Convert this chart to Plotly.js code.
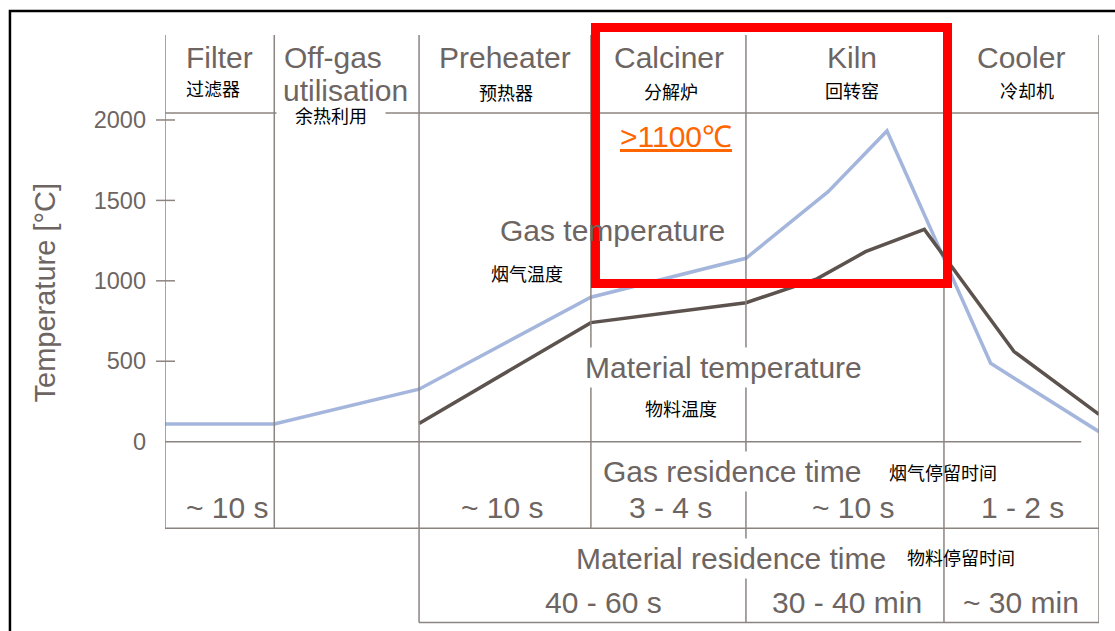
<!DOCTYPE html>
<html>
<head>
<meta charset="utf-8">
<script src="https://cdn.plot.ly/plotly-3.0.1.min.js"></script>
<style>html,body{margin:0;padding:0;background:#fff;}#chart{width:1115px;height:631px;}</style>
</head>
<body>
<div id="chart"></div>
<script>
// ---- data (x = position along the process, % of total width; y = temperature in °C) ----
const stageNames = ['Filter', 'Off-gas', 'Preheater', 'Calciner', 'Kiln', 'Cooler'];
const stageNamesZh = ['过滤器', '余热利用', '预热器', '分解炉', '回转窑', '冷却机'];
const stageEdges = [0, 11.7, 27.2, 45.6, 62.2, 83.4, 100];
const gasX = [0, 11.7, 27.2, 45.6, 62.2, 71.0, 77.3, 88.4, 100];
const gasTemp = [110, 110, 326, 898, 1140, 1554, 1932, 487, 62];
const matX = [27.2, 45.6, 62.2, 69.8, 75.0, 81.3, 90.9, 100];
const matTemp = [113, 740, 864, 1012, 1181, 1320, 560, 170];
const gasResidence = ['~ 10 s', '~ 10 s', '3 - 4 s', '~ 10 s', '1 - 2 s'];
const materialResidence = ['40 - 60 s', '30 - 40 min', '~ 30 min'];
const yTicks = [0, 500, 1000, 1500, 2000];

// ---- styles ----
const EN = 'Liberation Sans, Arial, sans-serif';
const ZH = 'Noto Sans CJK SC, sans-serif';
const GREY = '#6d6562';
const GRID = '#8c8480';
const ENSIZE = 30;
const ZHSIZE = 18;

const traces = [
  {x: gasX, y: gasTemp, mode: 'lines', line: {color: '#a5b6dd', width: 3.5}, hoverinfo: 'skip', showlegend: false},
  {x: matX, y: matTemp, mode: 'lines', line: {color: '#5c524e', width: 3.5}, hoverinfo: 'skip', showlegend: false}
];

// table structure
const headerY = 2043;
const gasRowBottom = -538;
const yTop = 2528.4, yBottom = -1140;
const matRowBottom = -1125;
const shapes = [];
const vBottoms = [gasRowBottom, gasRowBottom, matRowBottom, gasRowBottom, matRowBottom, matRowBottom, matRowBottom];
stageEdges.forEach((e, i) => {
  shapes.push({type: 'line', xref: 'x', yref: 'y', x0: e, x1: e, y0: yTop, y1: vBottoms[i], line: {color: GRID, width: 1.5}});
});
shapes.push({type: 'line', xref: 'x', yref: 'y', x0: 0, x1: 100, y0: headerY, y1: headerY, line: {color: GRID, width: 1.5}});
shapes.push({type: 'line', xref: 'x', yref: 'y', x0: 0, x1: 98.1, y0: 0, y1: 0, line: {color: GRID, width: 1.5}});
shapes.push({type: 'line', xref: 'x', yref: 'y', x0: 0, x1: 100, y0: gasRowBottom, y1: gasRowBottom, line: {color: GRID, width: 1.5}});
shapes.push({type: 'line', xref: 'x', yref: 'y', x0: stageEdges[2], x1: 100, y0: matRowBottom, y1: matRowBottom, line: {color: GRID, width: 1.5}});
// tick marks crossing the axis
yTicks.filter(v => v > 0).forEach(v => {
  shapes.push({type: 'line', xref: 'paper', yref: 'y', x0: -9/934, x1: 10/934, y0: v, y1: v, line: {color: GRID, width: 1.5}});
});
// outer black frame (top & left)
shapes.push({type: 'path', xref: 'paper', yref: 'paper', path: 'M-0.166,-0.05L-0.166,1.0407L1.1,1.0407', line: {color: '#000', width: 2.5}});
// red highlight box
shapes.push({type: 'rect', xref: 'paper', yref: 'paper', x0: 0.4609, x1: 0.8378, y0: 0.5788, y1: 1.0127, line: {color: '#ff0000', width: 9}, fillcolor: 'rgba(0,0,0,0)'});

function en(text, x, y, extra) {
  return Object.assign({text: text, x: x, y: y, xref: 'x', yref: 'y', showarrow: false, xanchor: 'center', yanchor: 'middle',
    font: {family: EN, size: ENSIZE, color: GREY}}, extra || {});
}
function zh(text, x, y, extra) {
  return Object.assign({text: text, x: x, y: y, xref: 'x', yref: 'y', showarrow: false, xanchor: 'center', yanchor: 'middle',
    font: {family: ZH, size: ZHSIZE, color: '#000'}}, extra || {});
}

const annotations = [
  en(stageNames[0], 5.84, 2389),
  en(stageNames[1], 12.5, 2389, {xanchor: 'left'}),
  en('utilisation', 12.4, 2185, {xanchor: 'left'}),
  en(stageNames[2], 36.4, 2389),
  en(stageNames[3], 54.0, 2389),
  en(stageNames[4], 73.6, 2389),
  en(stageNames[5], 91.7, 2389),
  zh(stageNamesZh[0], 5.14, 2202),
  zh(stageNamesZh[1], 17.8, 2028, {bgcolor: '#fff', width: 108, borderpad: 0}),
  zh(stageNamesZh[2], 36.5, 2171),
  zh(stageNamesZh[3], 54.2, 2183),
  zh(stageNamesZh[4], 73.6, 2186),
  zh(stageNamesZh[5], 92.3, 2186),
  en('>1100℃', 54.7, 1896, {font: {family: EN, size: ENSIZE, color: '#ff6600', lineposition: 'under'}}),
  en('Gas temperature', 47.9, 1310),
  zh('烟气温度', 38.8, 1047),
  en('Material temperature', 59.8, 458, {bgcolor: '#fff', borderpad: 3}),
  zh('物料温度', 55.2, 209),
  en('Gas residence time', 60.7, -186, {bgcolor: '#fff', borderpad: 3}),
  zh('烟气停留时间', 83.3, -186),
  en(gasResidence[0], 6.64, -411),
  en(gasResidence[1], 36.1, -411),
  en(gasResidence[2], 54.1, -411),
  en(gasResidence[3], 73.7, -411),
  en(gasResidence[4], 91.8, -411),
  en('Material residence time', 60.6, -725, {bgcolor: '#fff', borderpad: 3}),
  zh('物料停留时间', 85.2, -719),
  en(materialResidence[0], 47.0, -1000),
  en(materialResidence[1], 73.0, -1000),
  en(materialResidence[2], 91.7, -1000),
  {text: 'Temperature [°C]', xref: 'paper', yref: 'paper', x: -0.1285, y: 0.5636, textangle: -90, showarrow: false,
   xanchor: 'center', yanchor: 'middle', font: {family: EN, size: 29, color: GREY}}
];

const layout = {
  width: 1115, height: 631,
  margin: {l: 165, r: 16, t: 35, b: 6},
  paper_bgcolor: '#fff', plot_bgcolor: '#fff',
  showlegend: false,
  xaxis: {range: [0, 100], visible: false, fixedrange: true},
  yaxis: {range: [yBottom, yTop], showgrid: false, zeroline: false, showline: false,
    tickvals: yTicks, ticktext: yTicks.map(String), ticks: '', ticklabelstandoff: 18,
    tickfont: {family: EN, size: 23.5, color: GREY}, fixedrange: true},
  shapes: shapes,
  annotations: annotations
};

Plotly.newPlot('chart', traces, layout, {displayModeBar: false, staticPlot: true});
</script>
</body>
</html>
